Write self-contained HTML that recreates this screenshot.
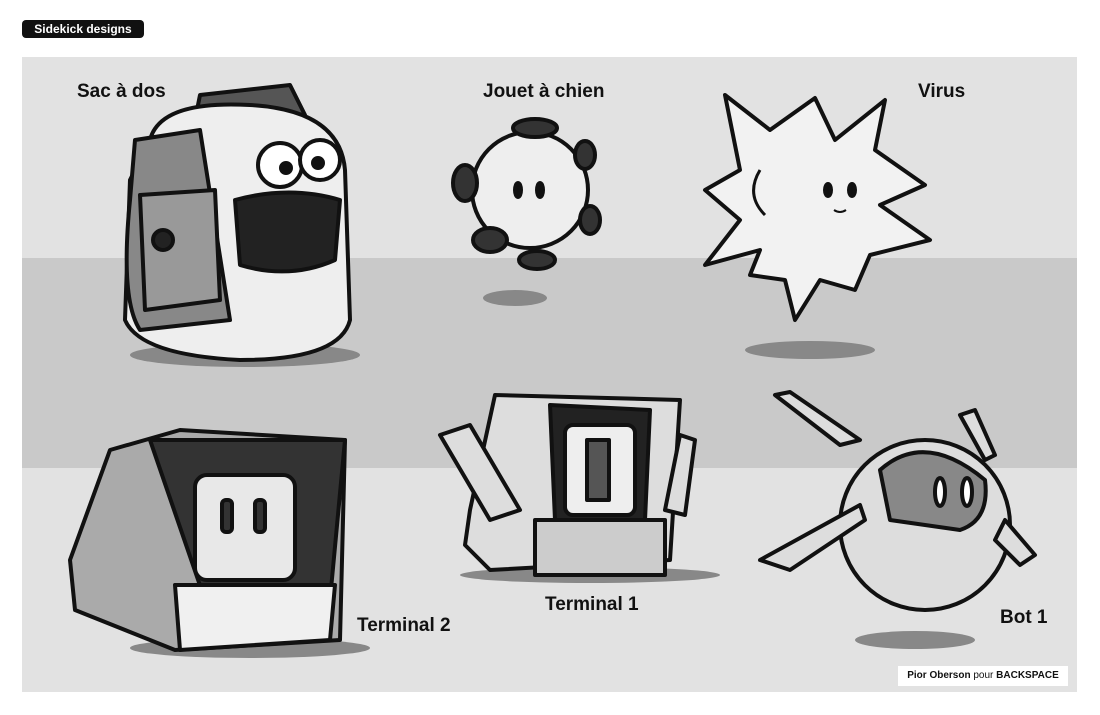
<!DOCTYPE html>
<html><head><meta charset="utf-8"><style>
body{margin:0;width:1100px;height:715px;background:#fff;position:relative;overflow:hidden;font-family:"Liberation Sans",sans-serif}
.t{position:absolute;font-weight:bold;font-size:19px;color:#111}
</style></head><body>
<div style="position:absolute;left:22px;top:20px;width:122px;height:18px;background:#111;border-radius:4px;color:#fff;font-weight:bold;font-size:12px;line-height:18px;text-align:center">Sidekick designs</div>
<svg style="position:absolute;left:0;top:0" width="1100" height="715">
<rect x="22" y="57" width="1055" height="635" fill="#e2e2e2"/>
<rect x="22" y="258" width="1055" height="210" fill="#c9c9c9"/>
<g stroke="#111" stroke-width="4" stroke-linejoin="round">
<ellipse cx="245" cy="355" rx="115" ry="12" fill="#888" stroke="none"/>
<path d="M200 95 L290 85 L305 115 L195 120 Z" fill="#555"/>
<path d="M150 140 Q160 100 250 105 Q340 110 345 170 L350 320 Q340 360 240 360 Q140 355 125 320 L130 180 Z" fill="#eee"/>
<path d="M135 140 L200 130 L230 320 L140 330 Q120 300 130 200 Z" fill="#888"/>
<path d="M140 195 L215 190 L220 300 L145 310 Z" fill="#999"/>
<circle cx="163" cy="240" r="10" fill="#222"/>
<path d="M235 200 Q290 185 340 200 L335 260 Q290 280 240 265 Z" fill="#222"/>
<circle cx="280" cy="165" r="22" fill="#fff"/><circle cx="320" cy="160" r="20" fill="#fff"/>
<circle cx="286" cy="168" r="5" fill="#111"/><circle cx="318" cy="163" r="5" fill="#111"/>
<ellipse cx="515" cy="298" rx="32" ry="8" fill="#888" stroke="none"/>
<circle cx="530" cy="190" r="58" fill="#eee"/>
<ellipse cx="535" cy="128" rx="22" ry="9" fill="#333"/>
<ellipse cx="465" cy="183" rx="12" ry="18" fill="#333"/>
<ellipse cx="490" cy="240" rx="17" ry="12" fill="#333"/>
<ellipse cx="585" cy="155" rx="10" ry="14" fill="#333"/>
<ellipse cx="590" cy="220" rx="10" ry="14" fill="#333"/>
<ellipse cx="537" cy="260" rx="18" ry="9" fill="#333"/>
<ellipse cx="518" cy="190" rx="3" ry="7" fill="#111"/><ellipse cx="540" cy="190" rx="3" ry="7" fill="#111"/>
<ellipse cx="810" cy="350" rx="65" ry="9" fill="#888" stroke="none"/>
<path d="M815 98 L835 140 L885 100 L875 150 L925 185 L880 205 L930 240 L870 255 L855 290 L820 280 L795 320 L785 280 L750 275 L760 250 L705 265 L740 220 L705 190 L740 170 L725 95 L770 130 Z" fill="#f2f2f2"/>
<path d="M760 170 Q745 195 765 215" fill="none" stroke-width="3"/>
<ellipse cx="828" cy="190" rx="3" ry="6" fill="#111"/><ellipse cx="852" cy="190" rx="3" ry="6" fill="#111"/>
<path d="M834 210 Q840 214 846 210" fill="none" stroke-width="2"/>
<ellipse cx="250" cy="648" rx="120" ry="10" fill="#888" stroke="none"/>
<path d="M110 450 L180 430 L345 440 L340 640 L175 650 L75 610 L70 560 Z" fill="#aaa"/>
<path d="M150 440 L345 440 L330 600 L205 600 Z" fill="#333"/>
<rect x="195" y="475" width="100" height="105" rx="12" fill="#e8e8e8"/>
<rect x="222" y="500" width="10" height="32" rx="4" fill="#333"/><rect x="255" y="500" width="10" height="32" rx="4" fill="#333"/>
<path d="M175 585 L335 585 L330 640 L180 650 Z" fill="#f0f0f0"/>
<ellipse cx="590" cy="575" rx="130" ry="8" fill="#888" stroke="none"/>
<path d="M495 395 L680 400 L670 560 L490 570 L465 545 L470 510 Z" fill="#ddd"/>
<path d="M550 405 L650 410 L645 520 L555 520 Z" fill="#222"/>
<rect x="565" y="425" width="70" height="90" rx="8" fill="#eee"/>
<rect x="587" y="440" width="22" height="60" fill="#555"/>
<path d="M440 435 L470 425 L520 510 L490 520 Z" fill="#ddd"/>
<path d="M680 435 L695 440 L685 515 L665 510 Z" fill="#ddd"/>
<path d="M535 520 L665 520 L665 575 L535 575 Z" fill="#ccc"/>
<ellipse cx="915" cy="640" rx="60" ry="9" fill="#888" stroke="none"/>
<circle cx="925" cy="525" r="85" fill="#ddd"/>
<path d="M880 470 Q925 430 985 480 Q990 520 960 530 L890 520 Z" fill="#888"/>
<ellipse cx="940" cy="492" rx="5" ry="14" fill="#fff"/><ellipse cx="967" cy="492" rx="5" ry="14" fill="#fff"/>
<path d="M775 395 L790 392 L860 440 L840 445 Z" fill="#ddd"/>
<path d="M760 560 L860 505 L865 520 L790 570 Z" fill="#ddd"/>
<path d="M960 415 L975 410 L995 455 L985 460 Z" fill="#ddd"/>
<path d="M1005 520 L1035 555 L1020 565 L995 540 Z" fill="#ddd"/>
</g>
<rect x="898" y="666" width="170" height="20" fill="#fff"/>
</svg>
<div class="t" style="left:77px;top:81px">Sac à dos</div>
<div class="t" style="left:483px;top:81px">Jouet à chien</div>
<div class="t" style="left:918px;top:81px">Virus</div>
<div class="t" style="left:357px;top:615px">Terminal 2</div>
<div class="t" style="left:545px;top:594px">Terminal 1</div>
<div class="t" style="left:1000px;top:607px">Bot 1</div>
<div style="position:absolute;left:898px;top:666px;width:170px;height:20px;line-height:20px;text-align:center;font-size:10px;color:#111"><b>Pior Oberson</b> pour <b>BACKSPACE</b></div>
</body></html>
